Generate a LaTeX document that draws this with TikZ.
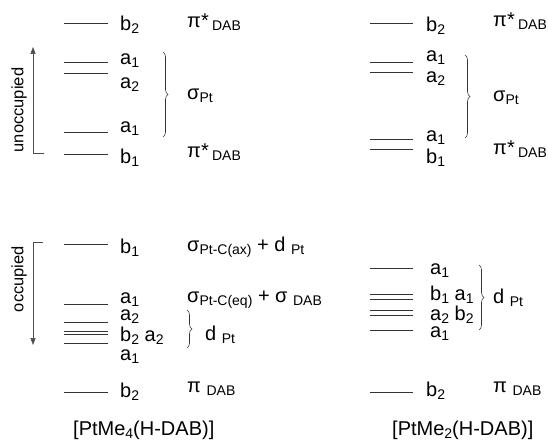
\documentclass[tikz,border=0pt]{standalone}
\usepackage{fontspec}
\setmainfont{Liberation Sans}
\usetikzlibrary{decorations.pathreplacing,arrows.meta}

% type sizes (1pt = one unit of the drawing grid)
\newcommand\mainsz{\fontsize{20}{22}\selectfont}
\newcommand\subsz{\fontsize{14}{16}\selectfont}
\newcommand\tagsz{\fontsize{16.5}{18}\selectfont}
% symmetry label with a lowered index, e.g. \lv{a}{1}
\newcommand\lv[2]{#1\lower3pt\hbox{\subsz #2}}
% lowered descriptor text such as Pt or DAB
\newcommand\lo[1]{\lower3pt\hbox{\subsz #1}}

\begin{document}
\begin{tikzpicture}[x=1pt,y=-1pt,
  orbital/.style={draw=black!80,line width=0.7pt},
  lbl/.style={anchor=base west,inner sep=0pt,font=\mainsz},
  tag/.style={inner sep=0pt,font=\tagsz,rotate=90},
  group/.style={draw=black!80,line width=0.6pt,
    decorate,decoration={brace,amplitude=5pt}},
  bracket/.style={draw=black!70,line width=0.7pt},
  axis/.style={bracket,-{Triangle[length=7pt,width=5pt]}}]

\useasboundingbox (0,0) rectangle (548,443);

% ---------------- [PtMe4(H-DAB)] ----------------
% unoccupied levels
\foreach \y in {23,62,73,132,154} \draw[orbital] (64,\y) -- (108,\y);
\node[lbl] (L-b2u) at (120,31)  {\lv{b}{2}};
\node[lbl] (L-a1u) at (120,65)  {\lv{a}{1}};
\node[lbl] (L-a2u) at (120,89)  {\lv{a}{2}};
\node[lbl] (L-a1l) at (120,133) {\lv{a}{1}};
\node[lbl] (L-b1u) at (120,164) {\lv{b}{1}};
\draw[group] (163,52) -- (163,137);
\node[lbl] (L-piu) at (187,28)  {π*\,\lo{DAB}};
\node[lbl] (L-sig) at (187,100) {σ\lo{Pt}};
\node[lbl] (L-pil) at (187,158) {π*\,\lo{DAB}};

% occupied levels
\foreach \y in {244,304,322,331,334,343,392} \draw[orbital] (64,\y) -- (108,\y);
\node[lbl] (L-b1o) at (120,254) {\lv{b}{1}};
\node[lbl] (L-a1o) at (120,303) {\lv{a}{1}};
\node[lbl] (L-a2o) at (120,320) {\lv{a}{2}};
\node[lbl] (L-b2a2) at (120,341) {\lv{b}{2} \lv{a}{2}};
\node[lbl] (L-a1d) at (120,360) {\lv{a}{1}};
\node[lbl] (L-b2o) at (120,397) {\lv{b}{2}};
\node[lbl] (L-ax) at (187,252) {σ\lo{Pt-C(ax)} + d \lo{Pt}};
\node[lbl] (L-eq) at (187,302) {σ\lo{Pt-C(eq)} + σ \lo{DAB}};
\draw[group] (187,310) -- (187,348);
\node[lbl] (L-dPt) at (205,340) {d \lo{Pt}};
\node[lbl] (L-pio) at (187,392) {π \lo{DAB}};

% occupation arrows
\coordinate (U-foot) at (44,153);
\coordinate (U-corner) at (33,153);
\coordinate (U-head) at (33,47);
\draw[axis] (U-foot) -- (U-corner) -- (U-head);
\node[tag] (unocc) at (19,110) {unoccupied};
\coordinate (O-foot) at (43,242);
\coordinate (O-corner) at (33,242);
\coordinate (O-head) at (33,345);
\draw[axis] (O-foot) -- (O-corner) -- (O-head);
\node[tag] (occ) at (19,279) {occupied};

\node[lbl] (L-name) at (73,435) {[PtMe\lo{4}(H-DAB)]};

% ---------------- [PtMe2(H-DAB)] ----------------
% unoccupied levels
\foreach \y in {23,62,72,139,149} \draw[orbital] (370,\y) -- (413,\y);
\node[lbl] (R-b2u) at (426,32)  {\lv{b}{2}};
\node[lbl] (R-a1u) at (426,62)  {\lv{a}{1}};
\node[lbl] (R-a2u) at (426,83)  {\lv{a}{2}};
\node[lbl] (R-a1l) at (426,142) {\lv{a}{1}};
\node[lbl] (R-b1u) at (426,164) {\lv{b}{1}};
\draw[group] (465,55) -- (465,138);
\node[lbl] (R-piu) at (493,27)  {π*\,\lo{DAB}};
\node[lbl] (R-sig) at (493,102) {σ\lo{Pt}};
\node[lbl] (R-pil) at (493,155) {π*\,\lo{DAB}};

% occupied levels
\foreach \y in {268,294,299,310,315,330,392} \draw[orbital] (370,\y) -- (413,\y);
\node[lbl] (R-a1t) at (430,275) {\lv{a}{1}};
\node[lbl] (R-b1a1) at (430,300) {\lv{b}{1} \lv{a}{1}};
\node[lbl] (R-a2b2) at (430,320) {\lv{a}{2} \lv{b}{2}};
\node[lbl] (R-a1b) at (430,337) {\lv{a}{1}};
\draw[group] (479,265) -- (479,330);
\node[lbl] (R-dPt) at (493,303) {d \lo{Pt}};
\node[lbl] (R-b2o) at (426,396) {\lv{b}{2}};
\node[lbl] (R-pio) at (493,392) {π \lo{DAB}};

\node[lbl] (R-name) at (392,435) {[PtMe\lo{2}(H-DAB)]};
\end{tikzpicture}
\end{document}
